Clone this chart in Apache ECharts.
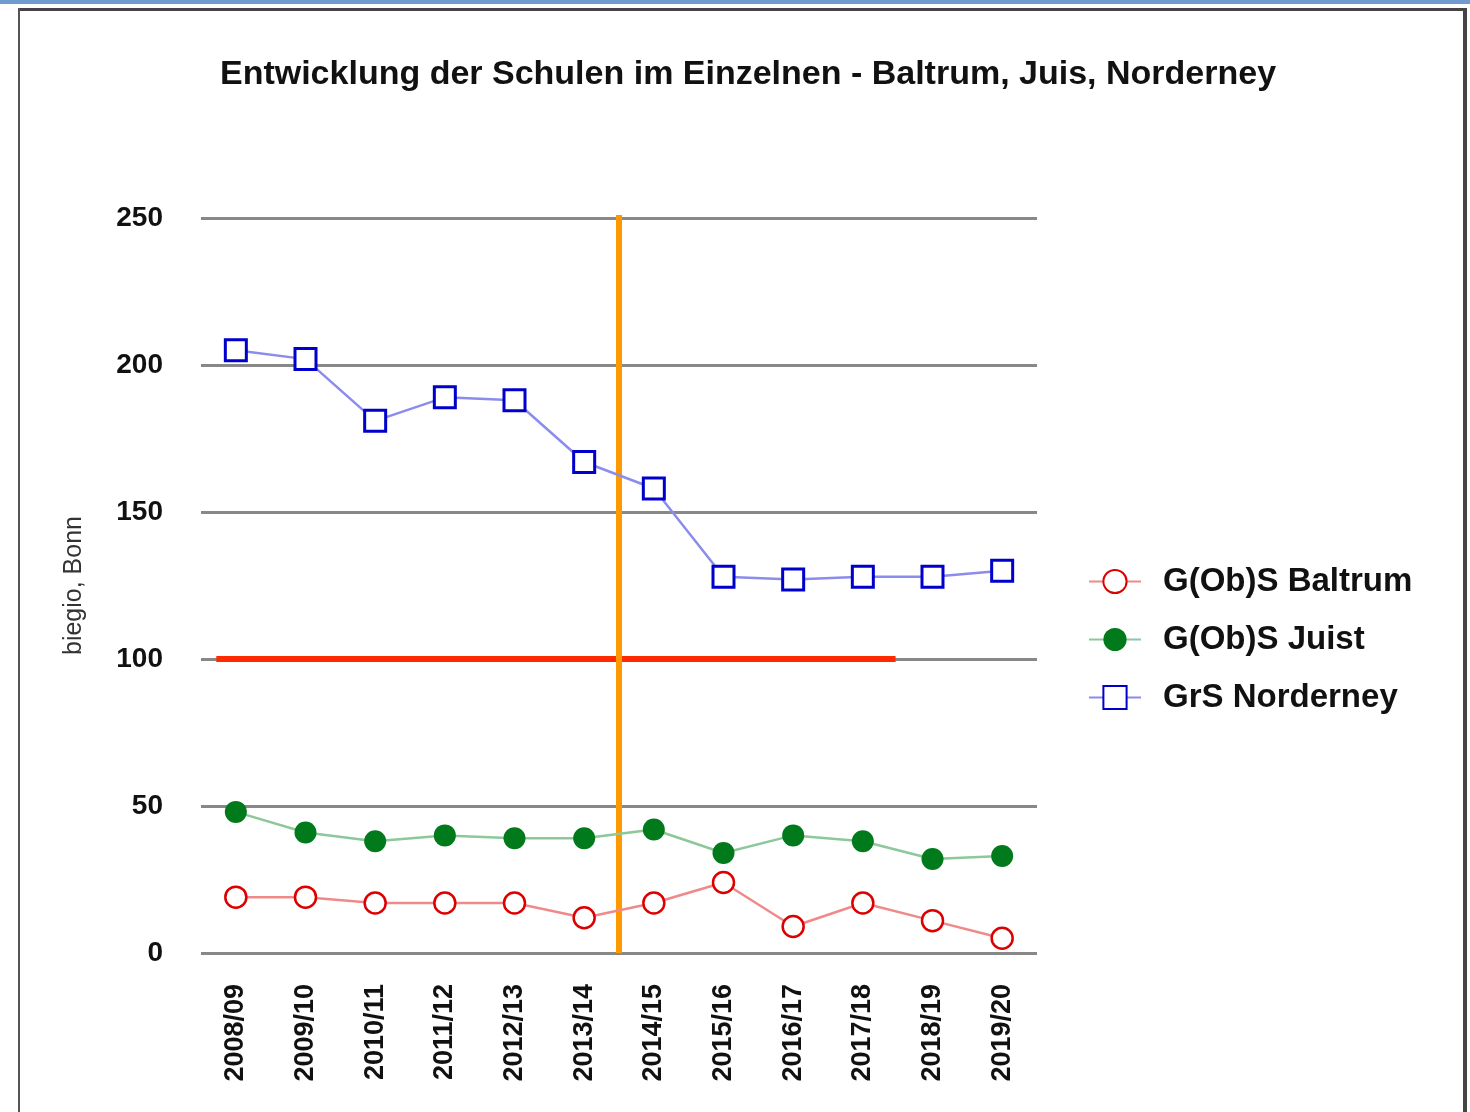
<!DOCTYPE html>
<html>
<head>
<meta charset="utf-8">
<script src="https://cdn.jsdelivr.net/npm/echarts@6/dist/echarts.min.js"></script>
<style>
html,body{margin:0;padding:0;background:#fff;}
#chart{width:1470px;height:1112px;}
</style>
</head>
<body>
<div id="chart"></div>
<script>
const titleText = 'Entwicklung der Schulen im Einzelnen - Baltrum, Juis, Norderney';
const yAxisName = 'biegio, Bonn';
const categories = ['2008/09','2009/10','2010/11','2011/12','2012/13','2013/14','2014/15','2015/16','2016/17','2017/18','2018/19','2019/20'];
const seriesNames = ['G(Ob)S Baltrum','G(Ob)S Juist','GrS Norderney'];
const baltrum = [19, 19, 17, 17, 17, 12, 17, 24, 9, 17, 11, 5];
const juist = [48, 41, 38, 40, 39, 39, 42, 34, 40, 38, 32, 33];
const norderney = [205, 202, 181, 189, 188, 167, 158, 128, 127, 128, 128, 130];
const yTicks = [0, 50, 100, 150, 200, 250];
// reference lines: [categoryPosition, value]
const threshold = [[-0.28, 100], [9.47, 100]];
const divider = [[5.5, 0], [5.5, 251]];

const FONT = '"Liberation Sans", Arial, sans-serif';
const chart = echarts.init(document.getElementById('chart'), null, {renderer: 'canvas'});
chart.setOption({
  animation: false,
  backgroundColor: '#fff',
  graphic: [
    {type: 'rect', shape: {x: 0, y: 0, width: 1470, height: 4}, style: {fill: '#6f9bd0'}, z: 10},
    {type: 'rect', shape: {x: 18, y: 8, width: 1448, height: 3}, style: {fill: '#444'}, z: 10},
    {type: 'rect', shape: {x: 18, y: 8, width: 2, height: 1104}, style: {fill: '#555'}, z: 10},
    {type: 'rect', shape: {x: 1463, y: 8, width: 4, height: 1104}, style: {fill: '#444'}, z: 10}
  ],
  title: {
    text: titleText,
    left: 743, top: 53, textAlign: 'center',
    textStyle: {fontFamily: FONT, fontWeight: 'bold', fontSize: 34, color: '#111'}
  },
  legend: {
    orient: 'vertical',
    left: 1083, top: 560,
    itemWidth: 52, itemHeight: 29, itemGap: 25,
    data: seriesNames,
    textStyle: {fontFamily: FONT, fontWeight: 'bold', fontSize: 33, color: '#111', padding: [0, 0, 0, 17]}
  },
  grid: {left: 201, right: 433, top: 218, bottom: 159, containLabel: false},
  xAxis: [
    {
      type: 'category', data: categories, boundaryGap: true,
      axisLine: {show: false}, axisTick: {show: false},
      axisLabel: {rotate: 90, margin: 31, fontFamily: FONT, fontWeight: 'bold', fontSize: 27, color: '#111'}
    },
    {type: 'value', min: -0.5, max: categories.length - 0.5, show: false}
  ],
  yAxis: {
    type: 'value', min: yTicks[0], max: yTicks[yTicks.length - 1], interval: 50,
    name: yAxisName, nameLocation: 'middle', nameGap: 114,
    nameTextStyle: {fontFamily: FONT, fontSize: 25, color: '#333'},
    axisLine: {show: false}, axisTick: {show: false},
    axisLabel: {margin: 38, fontFamily: FONT, fontWeight: 'bold', fontSize: 28, color: '#111'},
    splitLine: {lineStyle: {color: '#888', width: 3}}
  },
  series: [
    {
      name: 'threshold', type: 'line', xAxisIndex: 1, data: threshold, symbol: 'none', silent: true,
      lineStyle: {color: '#ff2a00', width: 6}, z: 1, clip: false
    },
    {
      name: 'divider', type: 'line', xAxisIndex: 1, data: divider, symbol: 'none', silent: true,
      lineStyle: {color: '#ff9900', width: 6}, z: 1, clip: false
    },
    {
      name: seriesNames[0], type: 'line', data: baltrum,
      symbol: 'circle', symbolSize: 21,
      itemStyle: {color: '#fff', borderColor: '#dd0000', borderWidth: 2.5},
      lineStyle: {color: '#f08a8a', width: 2.5}, z: 3
    },
    {
      name: seriesNames[1], type: 'line', data: juist,
      symbol: 'circle', symbolSize: 22,
      itemStyle: {color: '#007a1a', borderColor: '#007a1a', borderWidth: 0},
      lineStyle: {color: '#8cc89a', width: 2.5}, z: 3
    },
    {
      name: seriesNames[2], type: 'line', data: norderney,
      symbol: 'rect', symbolSize: 21,
      itemStyle: {color: '#fff', borderColor: '#0000cc', borderWidth: 3},
      lineStyle: {color: '#8c8cec', width: 2.5}, z: 3
    }
  ]
});
</script>
</body>
</html>
